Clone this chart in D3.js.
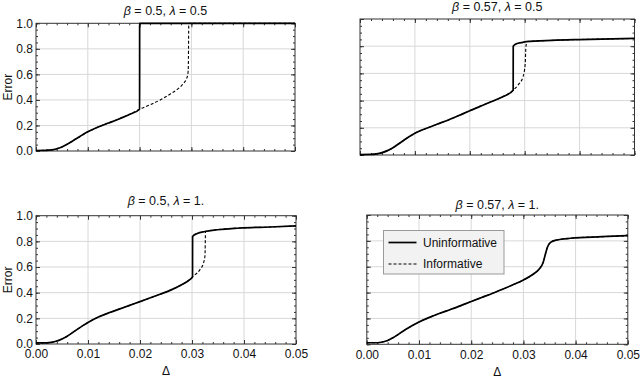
<!DOCTYPE html>
<html>
<head>
<meta charset="utf-8">
<script src="https://cdn.jsdelivr.net/npm/d3@7"></script>
<style>
  body { margin: 0; background: #fff; }
  svg { display: block; font-family: "Liberation Sans", Arial, sans-serif; }
  .grid line { stroke: #d8d8d8; stroke-width: 1; }
  .tick-ax path { display: none; }
  .tick-ax line { stroke: #333; }
  .tick-ax text { font-size: 12px; fill: #111; }
</style>
</head>
<body>
<div id="chart"></div>
<script>
// Axis ticks
const deltaTicks = [0, 0.01, 0.02, 0.03, 0.04, 0.05];
const errorTicks = [0, 0.2, 0.4, 0.6, 0.8, 1.0];

// beta = 0.5, lambda = 0.5
const p1DeltaU = [0, 0.002, 0.003, 0.004, 0.005, 0.006, 0.007, 0.008, 0.009, 0.010, 0.012, 0.014, 0.016, 0.018, 0.020, 0.02001, 0.03, 0.05];
const p1ErrorU = [0.004, 0.005, 0.009, 0.018, 0.032, 0.052, 0.077, 0.102, 0.127, 0.150, 0.188, 0.219, 0.251, 0.286, 0.327, 1.0, 1.0, 1.0];
const p1DeltaI = [0, 0.002, 0.003, 0.004, 0.005, 0.006, 0.007, 0.008, 0.009, 0.010, 0.012, 0.014, 0.016, 0.018, 0.020, 0.022, 0.024, 0.026, 0.0275, 0.0285, 0.029, 0.0293, 0.0294, 0.0295, 0.03, 0.05];
const p1ErrorI = [0.004, 0.005, 0.009, 0.018, 0.032, 0.052, 0.077, 0.102, 0.127, 0.150, 0.188, 0.219, 0.251, 0.286, 0.327, 0.362, 0.40, 0.448, 0.49, 0.53, 0.56, 0.60, 0.65, 1.0, 1.0, 1.0];

// beta = 0.57, lambda = 0.5
const p2DeltaU = [0, 0.002, 0.003, 0.004, 0.005, 0.006, 0.007, 0.008, 0.009, 0.010, 0.012, 0.014, 0.016, 0.018, 0.020, 0.022, 0.024, 0.026, 0.0279, 0.02791, 0.0285, 0.0294, 0.0303, 0.035, 0.04, 0.05];
const p2ErrorU = [0.003, 0.004, 0.008, 0.017, 0.032, 0.053, 0.081, 0.109, 0.136, 0.160, 0.195, 0.226, 0.256, 0.290, 0.326, 0.360, 0.393, 0.428, 0.476, 0.80, 0.818, 0.826, 0.833, 0.843, 0.849, 0.857];
const p2DeltaI = [0, 0.002, 0.003, 0.004, 0.005, 0.006, 0.007, 0.008, 0.009, 0.010, 0.012, 0.014, 0.016, 0.018, 0.020, 0.022, 0.024, 0.026, 0.0279, 0.0288, 0.0297, 0.0301, 0.0302, 0.0304, 0.035, 0.04, 0.05];
const p2ErrorI = [0.003, 0.004, 0.008, 0.017, 0.032, 0.053, 0.081, 0.109, 0.136, 0.160, 0.195, 0.226, 0.256, 0.290, 0.326, 0.360, 0.393, 0.428, 0.476, 0.515, 0.576, 0.674, 0.78, 0.834, 0.843, 0.849, 0.857];

// beta = 0.5, lambda = 1
const p3DeltaU = [0, 0.002, 0.003, 0.004, 0.005, 0.006, 0.007, 0.008, 0.009, 0.010, 0.012, 0.014, 0.016, 0.018, 0.020, 0.022, 0.024, 0.026, 0.028, 0.0295, 0.0301, 0.03011, 0.031, 0.0325, 0.0392, 0.045, 0.05];
const p3ErrorU = [0.008, 0.009, 0.013, 0.023, 0.039, 0.061, 0.088, 0.116, 0.143, 0.168, 0.210, 0.243, 0.272, 0.301, 0.330, 0.360, 0.390, 0.422, 0.462, 0.50, 0.524, 0.838, 0.862, 0.877, 0.904, 0.912, 0.92];
const p3DeltaI = [0, 0.002, 0.003, 0.004, 0.005, 0.006, 0.007, 0.008, 0.009, 0.010, 0.012, 0.014, 0.016, 0.018, 0.020, 0.022, 0.024, 0.026, 0.028, 0.0295, 0.0301, 0.0315, 0.0322, 0.0325, 0.0326, 0.0392, 0.045, 0.05];
const p3ErrorI = [0.008, 0.009, 0.013, 0.023, 0.039, 0.061, 0.088, 0.116, 0.143, 0.168, 0.210, 0.243, 0.272, 0.301, 0.330, 0.360, 0.390, 0.422, 0.462, 0.50, 0.524, 0.578, 0.63, 0.69, 0.878, 0.904, 0.912, 0.92];

// beta = 0.57, lambda = 1 (both curves coincide)
const p4DeltaU = [0, 0.002, 0.003, 0.004, 0.005, 0.006, 0.007, 0.008, 0.009, 0.010, 0.012, 0.014, 0.016, 0.018, 0.020, 0.022, 0.024, 0.026, 0.028, 0.030, 0.032, 0.033, 0.0338, 0.0342, 0.0346, 0.0352, 0.0364, 0.039, 0.045, 0.05];
const p4ErrorU = [0.012, 0.012, 0.018, 0.030, 0.050, 0.076, 0.103, 0.128, 0.152, 0.173, 0.208, 0.240, 0.269, 0.299, 0.331, 0.362, 0.393, 0.426, 0.460, 0.497, 0.546, 0.58, 0.635, 0.695, 0.75, 0.788, 0.807, 0.82, 0.832, 0.84];
const p4DeltaI = p4DeltaU;
const p4ErrorI = p4ErrorU;

const seriesNames = ["Uninformative", "Informative"];

const panels = [
    { title: ["0.5", "0.5"], left: 36, right: 295, top: 23.3, bottom: 151, yLabels: true, xLabels: false,
      du: p1DeltaU, eu: p1ErrorU, di: p1DeltaI, ei: p1ErrorI, titleY: 11 },
    { title: ["0.57", "0.5"], left: 360, right: 634.5, top: 19, bottom: 155, yLabels: false, xLabels: false,
      du: p2DeltaU, eu: p2ErrorU, di: p2DeltaI, ei: p2ErrorI, titleY: 7 },
    { title: ["0.5", "1."], left: 36, right: 296, top: 215.7, bottom: 344, yLabels: true, xLabels: true,
      du: p3DeltaU, eu: p3ErrorU, di: p3DeltaI, ei: p3ErrorI, titleY: 201, labelPad: 5, deltaY: 375 },
    { title: ["0.57", "1."], left: 366.8, right: 627.8, top: 215, bottom: 344.3, yLabels: false, xLabels: true,
      du: p4DeltaU, eu: p4ErrorU, di: p4DeltaI, ei: p4ErrorI, titleY: 205, labelPad: 6.5, deltaY: 376, legend: true }
];

const svg = d3.select("#chart")
    .append("svg")
    .attr("width", 640)
    .attr("height", 378);

const minorX = d3.range(0, 0.0501, 0.002);
const minorY = d3.range(0, 1.001, 0.05);

panels.forEach(p => {
    const x = d3.scaleLinear().domain([0, 0.05]).range([p.left, p.right]);
    const y = d3.scaleLinear().domain([0, 1]).range([p.bottom, p.top]);
    const g = svg.append("g");

    // grid
    const grid = g.append("g").attr("class", "grid");
    grid.selectAll("line.gx")
        .data(deltaTicks.slice(1, -1))
        .enter().append("line")
        .attr("x1", d => x(d)).attr("x2", d => x(d))
        .attr("y1", p.top).attr("y2", p.bottom);
    grid.selectAll("line.gy")
        .data(errorTicks.slice(1, -1))
        .enter().append("line")
        .attr("y1", d => y(d)).attr("y2", d => y(d))
        .attr("x1", p.left).attr("x2", p.right);

    // frame ticks, all four sides, pointing inward
    const fmtX = d3.format(".2f"), fmtY = d3.format(".1f");
    const noLabel = () => "";
    const addAxis = (axis, tx, ty) => g.append("g")
        .attr("class", "tick-ax")
        .attr("transform", `translate(${tx},${ty})`)
        .call(axis);

    addAxis(d3.axisBottom(x).tickValues(deltaTicks).tickSize(-4).tickPadding(p.labelPad || 4)
        .tickFormat(p.xLabels ? fmtX : noLabel), 0, p.bottom);
    addAxis(d3.axisBottom(x).tickValues(minorX).tickSize(-2).tickFormat(noLabel), 0, p.bottom);
    addAxis(d3.axisTop(x).tickValues(deltaTicks).tickSize(-4).tickFormat(noLabel), 0, p.top);
    addAxis(d3.axisTop(x).tickValues(minorX).tickSize(-2).tickFormat(noLabel), 0, p.top);
    addAxis(d3.axisLeft(y).tickValues(errorTicks).tickSize(-4).tickPadding(3)
        .tickFormat(p.yLabels ? fmtY : noLabel), p.left, 0);
    addAxis(d3.axisLeft(y).tickValues(minorY).tickSize(-2).tickFormat(noLabel), p.left, 0);
    addAxis(d3.axisRight(y).tickValues(errorTicks).tickSize(-4).tickFormat(noLabel), p.right, 0);
    addAxis(d3.axisRight(y).tickValues(minorY).tickSize(-2).tickFormat(noLabel), p.right, 0);

    g.append("rect")
        .attr("x", p.left).attr("y", p.top)
        .attr("width", p.right - p.left).attr("height", p.bottom - p.top)
        .attr("fill", "none")
        .attr("stroke", "#333")
        .attr("stroke-width", 1);

    // curves
    const line = d3.line()
        .x(d => x(d[0]))
        .y(d => y(d[1]))
        .curve(d3.curveMonotoneX);

    g.append("path")
        .datum(d3.zip(p.di, p.ei))
        .attr("d", line)
        .attr("fill", "none")
        .attr("stroke", "#000")
        .attr("stroke-width", 1.1)
        .attr("stroke-dasharray", "3,2");

    g.append("path")
        .datum(d3.zip(p.du, p.eu))
        .attr("d", line)
        .attr("fill", "none")
        .attr("stroke", "#000")
        .attr("stroke-width", 1.7);

    // title
    const t = g.append("text")
        .attr("x", (p.left + p.right) / 2)
        .attr("y", p.titleY)
        .attr("dy", "0.35em")
        .attr("text-anchor", "middle")
        .attr("font-size", "12.5px")
        .attr("fill", "#111");
    t.append("tspan").attr("font-style", "italic").text("β");
    t.append("tspan").text(` = ${p.title[0]}, `);
    t.append("tspan").attr("font-style", "italic").text("λ");
    t.append("tspan").text(` = ${p.title[1]}`);

    if (p.yLabels) {
        g.append("text")
            .attr("transform", `translate(8,${(p.top + p.bottom) / 2}) rotate(-90)`)
            .attr("dy", "0.35em")
            .attr("text-anchor", "middle")
            .attr("font-size", "12px")
            .attr("fill", "#111")
            .text("Error");
    }
    if (p.xLabels) {
        g.append("text")
            .attr("x", (p.left + p.right) / 2)
            .attr("y", p.deltaY)
            .attr("text-anchor", "middle")
            .attr("font-size", "12px")
            .attr("fill", "#111")
            .text("Δ");
    }

    if (p.legend) {
        const lg = g.append("g").attr("transform", "translate(383.5,230.5)");
        lg.append("rect")
            .attr("width", 120.5).attr("height", 43.5)
            .attr("fill", "#f2f2f2")
            .attr("stroke", "#9a9a9a");
        seriesNames.forEach((name, i) => {
            const yy = 12 + i * 21.5;
            lg.append("line")
                .attr("x1", 5).attr("x2", 33)
                .attr("y1", yy).attr("y2", yy)
                .attr("stroke", "#000")
                .attr("stroke-width", i === 0 ? 1.7 : 1.1)
                .attr("stroke-dasharray", i === 0 ? null : "3,2");
            lg.append("text")
                .attr("x", 39.5).attr("y", yy)
                .attr("dy", "0.35em")
                .attr("font-size", "12px")
                .attr("fill", "#111")
                .text(name);
        });
    }
});
</script>
</body>
</html>
